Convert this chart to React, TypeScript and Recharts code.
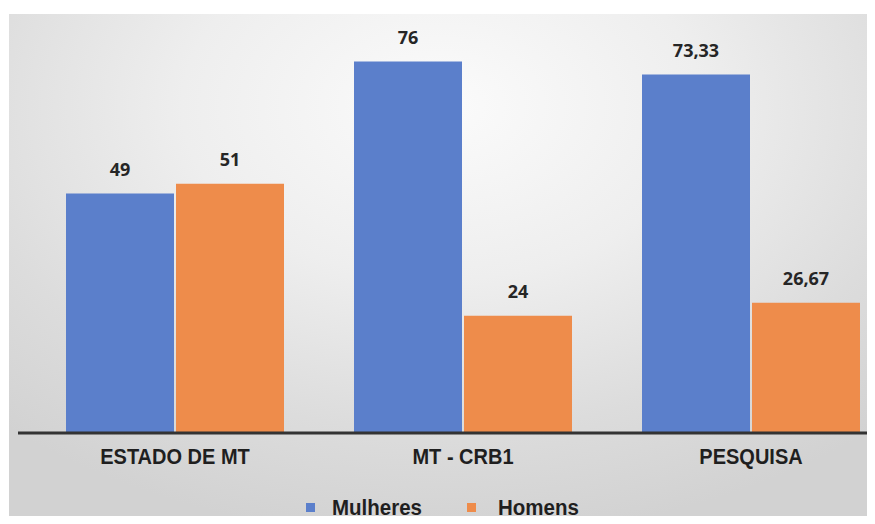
import React from "react";
import { BarChart, Bar, XAxis, YAxis, Legend, LabelList } from "recharts";

// Share of women and men (%) in each group
const categories = ["ESTADO DE MT", "MT - CRB1", "PESQUISA"];
const mulheres = [49, 76, 73.33];
const homens = [51, 24, 26.67];
const seriesOrder = ["Mulheres", "Homens"];

const data = categories.map((name, i) => ({
  name,
  Mulheres: mulheres[i],
  Homens: homens[i],
}));

const BLUE = "#5b7fcb";
const ORANGE = "#ee8c4b";
const TEXT = "#1f1f1f";
const FONT = "'Liberation Sans', Arial, sans-serif";

const formatValue = (v: any) => String(v).replace(".", ",");

const CategoryTick = (props: any) => {
  const { x, y, payload } = props;
  return (
    <g transform={`translate(${x},${y + 31}) scale(1,1.14)`}>
      <text
        x={0}
        y={0}
        textAnchor="middle"
        fontFamily={FONT}
        fontWeight={700}
        fontSize={20}
        fill={TEXT}
      >
        {payload.value}
      </text>
    </g>
  );
};

const LegendContent = (props: any) => {
  const raw = props.payload || [];
  const items = seriesOrder
    .map((n) => raw.find((p: any) => p.value === n))
    .filter(Boolean);
  return (
    <div style={{ position: "relative", width: 900, height: 41 }}>
      <div
        style={{
          position: "absolute",
          left: 306,
          top: 12,
          display: "flex",
          alignItems: "center",
          height: 24,
        }}
      >
        {items.map((item: any, i: number) => (
          <div
            key={item.value}
            style={{
              display: "flex",
              alignItems: "center",
              marginLeft: i === 0 ? 0 : 45,
            }}
          >
            <span
              style={{
                display: "inline-block",
                width: 9,
                height: 9,
                background: item.color,
                marginRight: i === 0 ? 17 : 22,
              }}
            />
            <span
              style={{
                display: "inline-block",
                fontFamily: FONT,
                fontWeight: 700,
                fontSize: 20.5,
                color: TEXT,
                lineHeight: "24px",
                transform: "scaleY(1.08)",
              }}
            >
              {item.value}
            </span>
          </div>
        ))}
      </div>
    </div>
  );
};

const valueLabelStyle = {
  fontFamily: "'Open Sans', sans-serif",
  fontWeight: 700,
  fontSize: 18,
  fill: "#262626",
};

export default function App() {
  return (
    <div
      style={{
        position: "relative",
        width: 875,
        height: 524,
        margin: -8,
        overflow: "hidden",
        background: "#ffffff",
      }}
    >
      <div
        style={{
          position: "absolute",
          left: 9,
          top: 14,
          right: 0,
          bottom: 0,
          background:
            "radial-gradient(ellipse 75% 85% at 50% 18%, #fbfbfb 0%, #eeeeee 40%, #dcdcdc 75%, #d2d2d2 100%)",
        }}
      />
      <div style={{ position: "absolute", left: 0, top: 0 }}>
        <BarChart
          width={900}
          height={524}
          data={data}
          margin={{ top: 42, right: 5, bottom: 0, left: 18 }}
          barCategoryGap={35}
          barGap={2}
        >
          <YAxis hide domain={[0, 80]} />
          <XAxis
            dataKey="name"
            height={50}
            padding={{ left: 13, right: 0 }}
            tickLine={false}
            tickSize={0}
            tickMargin={0}
            axisLine={{ stroke: "#333333", strokeWidth: 3 }}
            tick={<CategoryTick />}
            interval={0}
          />
          <Legend
            verticalAlign="bottom"
            content={<LegendContent />}
            wrapperStyle={{ left: 0, width: 900 }}
          />
          <Bar dataKey="Mulheres" fill={BLUE} isAnimationActive={false}>
            <LabelList
              dataKey="Mulheres"
              position="top"
              offset={18}
              formatter={formatValue}
              style={valueLabelStyle}
            />
          </Bar>
          <Bar dataKey="Homens" fill={ORANGE} isAnimationActive={false}>
            <LabelList
              dataKey="Homens"
              position="top"
              offset={18}
              formatter={formatValue}
              style={valueLabelStyle}
            />
          </Bar>
        </BarChart>
      </div>
    </div>
  );
}
